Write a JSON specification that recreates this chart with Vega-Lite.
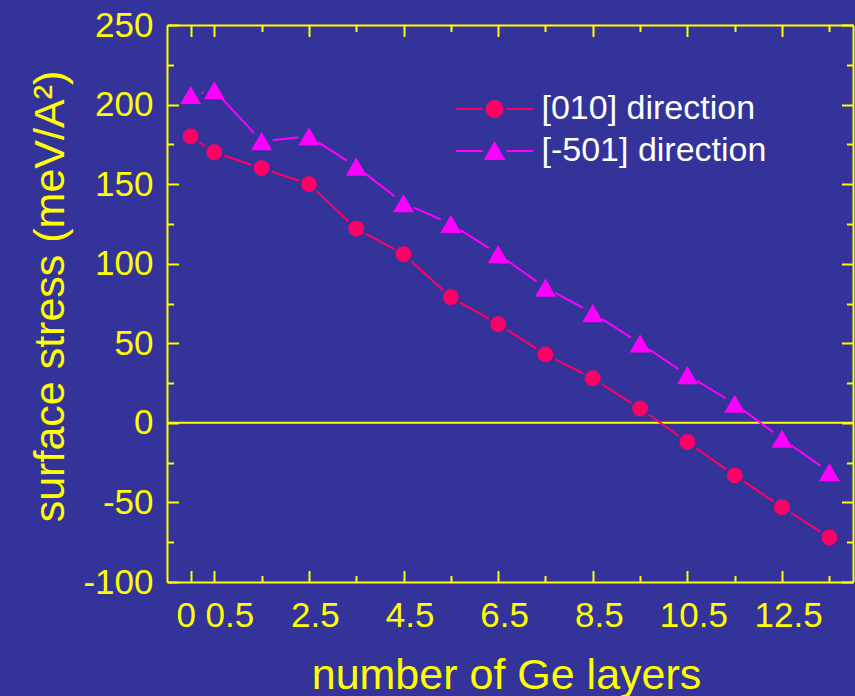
{
  "$schema": "https://vega.github.io/schema/vega-lite/v6.json",
  "width": 686,
  "height": 557,
  "autosize": {"type": "none"},
  "padding": {"left": 167, "top": 25, "right": 2, "bottom": 114},
  "background": "#333399",
  "config": {
    "view": {"stroke": null},
    "axis": {
      "domainColor": "#FFFF00", "domainWidth": 2,
      "tickColor": "#FFFF00", "tickWidth": 2,
      "labelColor": "#FFFF00", "labelFont": "Liberation Sans", "labelFontSize": 35,
      "titleColor": "#FFFF00", "titleFont": "Liberation Sans", "titleFontSize": 43, "titleFontWeight": "normal",
      "grid": false, "labelOverlap": false, "labelFlush": false, "labelBound": false
    },
    "legend": {
      "orient": "none", "legendX": 306.5, "legendY": 63, "padding": 0,
      "labelColor": "#FFFFFF", "labelFont": "Liberation Sans", "labelFontSize": 34, "labelLimit": 0,
      "symbolSize": 1600, "labelOffset": 26, "rowPadding": 4, "symbolStrokeWidth": 2, "symbolOpacity": 1
    }
  },
  "datasets": {
    "zero": [{"stress": 0}],
    "stress": [
      {"layers": 0, "stress": 180, "series": "[010] direction"},
      {"layers": 0.5, "stress": 170, "series": "[010] direction"},
      {"layers": 1.5, "stress": 160, "series": "[010] direction"},
      {"layers": 2.5, "stress": 150, "series": "[010] direction"},
      {"layers": 3.5, "stress": 122, "series": "[010] direction"},
      {"layers": 4.5, "stress": 106, "series": "[010] direction"},
      {"layers": 5.5, "stress": 79, "series": "[010] direction"},
      {"layers": 6.5, "stress": 62, "series": "[010] direction"},
      {"layers": 7.5, "stress": 43, "series": "[010] direction"},
      {"layers": 8.5, "stress": 28, "series": "[010] direction"},
      {"layers": 9.5, "stress": 9, "series": "[010] direction"},
      {"layers": 10.5, "stress": -12, "series": "[010] direction"},
      {"layers": 11.5, "stress": -33, "series": "[010] direction"},
      {"layers": 12.5, "stress": -53, "series": "[010] direction"},
      {"layers": 13.5, "stress": -72, "series": "[010] direction"},
      {"layers": 0, "stress": 206, "series": "[-501] direction"},
      {"layers": 0.5, "stress": 209, "series": "[-501] direction"},
      {"layers": 1.5, "stress": 177, "series": "[-501] direction"},
      {"layers": 2.5, "stress": 180, "series": "[-501] direction"},
      {"layers": 3.5, "stress": 161, "series": "[-501] direction"},
      {"layers": 4.5, "stress": 138, "series": "[-501] direction"},
      {"layers": 5.5, "stress": 125, "series": "[-501] direction"},
      {"layers": 6.5, "stress": 106, "series": "[-501] direction"},
      {"layers": 7.5, "stress": 85, "series": "[-501] direction"},
      {"layers": 8.5, "stress": 69, "series": "[-501] direction"},
      {"layers": 9.5, "stress": 50, "series": "[-501] direction"},
      {"layers": 10.5, "stress": 30, "series": "[-501] direction"},
      {"layers": 11.5, "stress": 12, "series": "[-501] direction"},
      {"layers": 12.5, "stress": -10, "series": "[-501] direction"},
      {"layers": 13.5, "stress": -31, "series": "[-501] direction"}
    ]
  },
  "layer": [
    {
      "data": {"name": "zero"},
      "mark": {"type": "rule", "color": "#FFFF00", "strokeWidth": 2},
      "encoding": {
        "y": {
          "field": "stress", "type": "quantitative",
          "scale": {"domain": [-100, 250], "nice": false, "zero": false},
          "axis": {
            "orient": "left",
            "values": [-100, -75, -50, -25, 0, 25, 50, 75, 100, 125, 150, 175, 200, 225, 250],
            "tickSize": {"condition": {"test": "datum.value % 50 === 0", "value": -11.5}, "value": -6.5},
            "labelExpr": "datum.value % 50 === 0 ? '' + datum.value : ''",
            "labelPadding": 25.5,
            "title": "surface stress (meV/A²)",
            "titleAngle": -90, "titleX": -104, "titleY": 271,
            "titleAlign": "center", "titleBaseline": "alphabetic"
          }
        },
        "x": {
          "datum": -0.5, "type": "quantitative",
          "scale": {"domain": [-0.5, 14], "nice": false, "zero": false},
          "axis": {
            "orient": "bottom",
            "values": [0, 0.5, 1.5, 2.5, 3.5, 4.5, 5.5, 6.5, 7.5, 8.5, 9.5, 10.5, 11.5, 12.5, 13.5],
            "tickSize": {"condition": {"test": "datum.value === 0 || (datum.value - 0.5) % 2 === 0", "value": -11.5}, "value": -6.5},
            "labelExpr": "(datum.value === 0 || (datum.value - 0.5) % 2 === 0) ? '' + datum.value : ''",
            "labelPadding": 28,
            "labelOffset": {"condition": [{"test": "datum.value === 0", "value": -5}, {"test": "datum.value === 0.5", "value": 15}], "value": 6},
            "title": "number of Ge layers",
            "titleX": 339, "titleY": 106, "titleAlign": "center", "titleBaseline": "alphabetic"
          }
        },
        "x2": {"datum": 14}
      }
    },
    {
      "data": {"name": "stress"},
      "mark": {"type": "line", "strokeWidth": 2},
      "encoding": {
        "x": {
          "field": "layers", "type": "quantitative",
          "axis": {
            "orient": "top", "labels": false, "title": null,
            "values": [0, 0.5, 1.5, 2.5, 3.5, 4.5, 5.5, 6.5, 7.5, 8.5, 9.5, 10.5, 11.5, 12.5, 13.5],
            "tickSize": {"condition": {"test": "datum.value === 0 || (datum.value - 0.5) % 2 === 0", "value": -11.5}, "value": -6.5}
          }
        },
        "y": {
          "field": "stress", "type": "quantitative",
          "axis": {
            "orient": "right", "labels": false, "title": null,
            "values": [-100, -75, -50, -25, 0, 25, 50, 75, 100, 125, 150, 175, 200, 225, 250],
            "tickSize": {"condition": {"test": "datum.value % 50 === 0", "value": -11.5}, "value": -6.5}
          }
        },
        "color": {
          "field": "series", "type": "nominal",
          "scale": {"domain": ["[010] direction", "[-501] direction"], "range": ["#FF0066", "#FF00FF"]},
          "legend": {
            "title": null,
            "encode": {"symbols": {"update": {"strokeWidth": {"value": 2}, "opacity": {"value": 1}}}}
          }
        }
      }
    },
    {
      "data": {"name": "stress"},
      "mark": {"type": "point", "shape": "circle", "filled": true, "opacity": 1, "color": "#333399"},
      "encoding": {
        "x": {"field": "layers", "type": "quantitative", "axis": null},
        "y": {"field": "stress", "type": "quantitative", "axis": null},
        "size": {"condition": {"test": "datum.series === '[010] direction'", "value": 452}, "value": 491}
      }
    },
    {
      "data": {"name": "stress"},
      "mark": {"type": "point", "filled": true, "opacity": 1},
      "encoding": {
        "x": {"field": "layers", "type": "quantitative", "axis": null},
        "y": {"field": "stress", "type": "quantitative", "axis": null},
        "color": {
          "field": "series", "type": "nominal",
          "legend": {
            "title": null,
            "encode": {"symbols": {"update": {"strokeWidth": {"value": 2}, "opacity": {"value": 1}}}}
          }
        },
        "shape": {"condition": {"test": "datum.series === '[010] direction'", "value": "circle"}, "value": "triangle-up"},
        "size": {"condition": {"test": "datum.series === '[010] direction'", "value": 254}, "value": 441}
      }
    },
    {
      "data": {"name": "stress"},
      "mark": {"type": "point", "filled": true, "opacity": 0},
      "encoding": {
        "x": {"field": "layers", "type": "quantitative", "axis": null},
        "y": {"field": "stress", "type": "quantitative", "axis": null},
        "color": {
          "field": "series", "type": "nominal",
          "legend": {
            "title": null,
            "encode": {"symbols": {"update": {"strokeWidth": {"value": 2}, "opacity": {"value": 1}}}}
          }
        },
        "shape": {
          "field": "series", "type": "nominal",
          "scale": {
            "domain": ["[010] direction", "[-501] direction"],
            "range": [
              "M-1.925,0L-0.59,0M0.59,0L1.925,0M0.4,0L0.3804,0.1236L0.3236,0.2351L0.2351,0.3236L0.1236,0.3804L0,0.4L-0.1236,0.3804L-0.2351,0.3236L-0.3236,0.2351L-0.3804,0.1236L-0.4,0L-0.3804,-0.1236L-0.3236,-0.2351L-0.2351,-0.3236L-0.1236,-0.3804L0,-0.4L0.1236,-0.3804L0.2351,-0.3236L0.3236,-0.2351L0.3804,-0.1236Z",
              "M-1.925,0L-0.59,0M0.59,0L1.925,0M0,-0.4L0.46,0.4L-0.46,0.4Z"
            ]
          },
          "legend": {
            "title": null,
            "encode": {"symbols": {"update": {"strokeWidth": {"value": 2}, "opacity": {"value": 1}}}}
          }
        }
      }
    }
  ],
  "resolve": {"axis": {"x": "independent", "y": "independent"}}
}
